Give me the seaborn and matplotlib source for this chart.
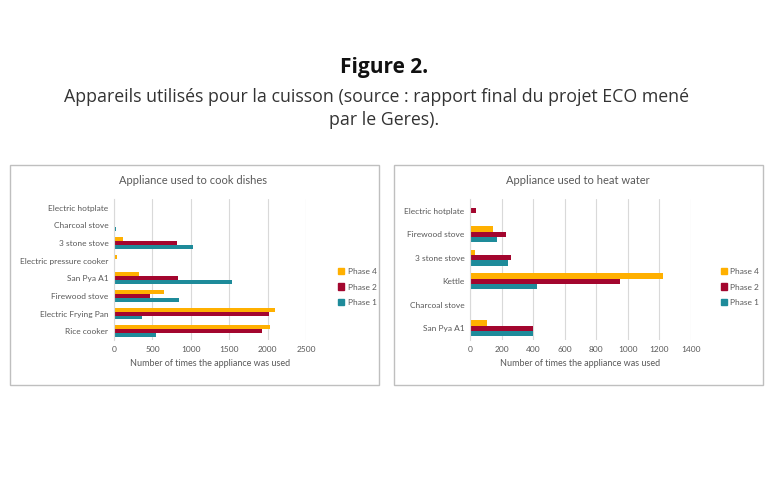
import matplotlib
matplotlib.use("Agg")
import matplotlib.pyplot as plt
from matplotlib.patches import Rectangle
import pandas as pd
import seaborn as sns

# Data (top-to-bottom category order)
phases = ["Phase 4", "Phase 2", "Phase 1"]

cook_appliances = ["Electric hotplate", "Charcoal stove", "3 stone stove",
                   "Electric pressure cooker", "San Pya A1", "Firewood stove",
                   "Electric Frying Pan", "Rice cooker"]
cook_phase4 = [2, 3, 113, 35, 322, 652, 2100, 2030]
cook_phase2 = [2, 5, 822, 2, 830, 470, 2022, 1926]
cook_phase1 = [2, 22, 1026, 3, 1535, 848, 361, 552]

water_appliances = ["Electric hotplate", "Firewood stove", "3 stone stove",
                    "Kettle", "Charcoal stove", "San Pya A1"]
water_phase4 = [8, 144, 30, 1221, 2, 106]
water_phase2 = [40, 231, 260, 950, 2, 396]
water_phase1 = [0, 169, 241, 427, 8, 402]

colors = {"Phase 4": "#FFB000", "Phase 2": "#A3062E", "Phase 1": "#1E8B9A"}


def long_df(cats, p4, p2, p1):
    rows = []
    for name, vals in zip(phases, [p4, p2, p1]):
        for c, v in zip(cats, vals):
            rows.append({"appliance": c, "phase": name, "count": v})
    return pd.DataFrame(rows)


sns.set_theme(style="white")
plt.rcParams["font.family"] = ["Lato", "DejaVu Sans"]

W, H = 768, 500
fig = plt.figure(figsize=(W / 100, H / 100), dpi=100)


def fx(px):
    return px / W


def fy(py):
    return 1 - py / H


# Headline text
fig.text(0.5, fy(68), "Figure 2.", ha="center", va="center",
         fontsize=15, fontweight="bold", family="Open Sans", color="#111111")
fig.text(fx(376), fy(97), "Appareils utilisés pour la cuisson (source : rapport final du projet ECO mené",
         ha="center", va="center", fontsize=12.8, family="Open Sans", color="#333333")
fig.text(0.5, fy(120), "par le Geres).", ha="center", va="center",
         fontsize=12.8, family="Open Sans", color="#333333")

panels = [
    dict(box=(10, 379), axes=(114, 306), xmax=2500, step=500,
         title="Appliance used to cook dishes", title_x=193,
         df=long_df(cook_appliances, cook_phase4, cook_phase2, cook_phase1),
         order=cook_appliances, legend_x=330),
    dict(box=(394, 763), axes=(470, 691), xmax=1400, step=200,
         title="Appliance used to heat water", title_x=578,
         df=long_df(water_appliances, water_phase4, water_phase2, water_phase1),
         order=water_appliances, legend_x=713),
]

for p in panels:
    x0, x1 = p["box"]
    fig.add_artist(Rectangle((fx(x0), fy(385)), fx(x1 - x0), (385 - 165) / H,
                             transform=fig.transFigure, fill=False,
                             edgecolor="#BFBFBF", linewidth=1))
    a0, a1 = p["axes"]
    ax = fig.add_axes([fx(a0), fy(340), fx(a1 - a0), (340 - 199) / H])
    sns.barplot(data=p["df"], y="appliance", x="count", hue="phase",
                order=p["order"], hue_order=phases, palette=colors,
                orient="h", width=0.66, ax=ax, legend=False, saturation=1,
                edgecolor="none", linewidth=0)
    ax.set_xlim(0, p["xmax"])
    ax.set_xticks(range(0, p["xmax"] + 1, p["step"]))
    ax.grid(axis="x", color="#D9D9D9", linewidth=0.8)
    ax.set_axisbelow(True)
    for s in ["top", "right", "bottom"]:
        ax.spines[s].set_visible(False)
    ax.spines["left"].set_color("#D9D9D9")
    ax.spines["left"].set_linewidth(0.8)
    ax.tick_params(axis="both", labelsize=6, colors="#595959", length=0, pad=4)
    ax.set_ylabel("")
    ax.set_xlabel("Number of times the appliance was used", fontsize=6.5,
                  color="#595959", labelpad=5)
    fig.text(fx(p["title_x"]), fy(181), p["title"], ha="center", va="center",
             fontsize=8, color="#595959")
    handles = [Rectangle((0, 0), 1, 1, color=colors[ph]) for ph in phases]
    fig.legend(handles, phases, loc="center left",
               bbox_to_anchor=(fx(p["legend_x"]), fy(287)), frameon=False,
               fontsize=6, labelcolor="#595959", handlelength=0.8,
               handleheight=0.8, handletextpad=0.4, labelspacing=1.0)

fig.savefig("out.png", dpi=100)
